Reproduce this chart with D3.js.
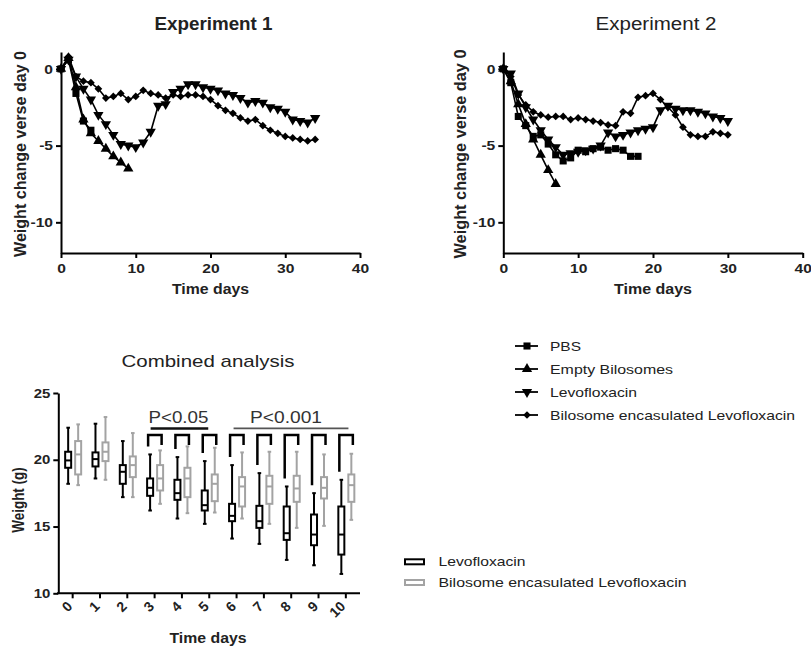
<!DOCTYPE html>
<html lang="en">
<head>
<meta charset="UTF-8">
<title>Weight change</title>
<script src="https://cdn.jsdelivr.net/npm/d3@7"></script>
<style>
  body { margin: 0; background: #fff; }
  svg text { font-family: "Liberation Sans", Arial, sans-serif; fill: #222; }
  .axis path, .axis line { stroke: #000; stroke-width: 2; }
  .axis text { font-weight: bold; font-size: 13px; fill: #222; font-family: "Liberation Sans", Arial, sans-serif; }
</style>
</head>
<body>
<svg id="fig" width="811" height="649"></svg>
<script>
// ---- data: line panels (value index = day) ----
var seriesNames = ['PBS', 'Empty Bilosomes', 'Levofloxacin', 'Bilosome encasulated Levofloxacin'];

var exp1PBS   = [0, 0.6, -1.6, -3.4, -4.0];
var exp1Empty = [0, 0.7, -1.2, -3.3, -4.2, -4.7, -5.2, -5.7, -6.1, -6.5];
var exp1Levo  = [0, 0.6, -0.5, -1.3, -2.0, -3.0, -3.6, -4.3, -4.9, -5.0, -5.1, -4.8, -4.1, -2.4, -2.3,
                 -1.5, -1.3, -1.0, -1.0, -1.2, -1.3, -1.4, -1.6, -1.7, -1.9, -2.2, -2.1, -2.2, -2.5,
                 -2.6, -2.8, -3.3, -3.4, -3.5, -3.2];
var exp1Bilo  = [0, 0.8, -0.5, -0.8, -0.9, -1.3, -1.9, -1.8, -1.6, -2.0, -1.8, -1.4, -1.6, -1.7, -1.9,
                 -1.7, -1.8, -1.7, -1.7, -1.8, -2.0, -2.4, -2.7, -2.9, -3.2, -3.4, -3.3, -3.7, -4.0,
                 -4.2, -4.4, -4.5, -4.6, -4.7, -4.6];

var exp2PBS   = [0, -0.9, -3.1, -3.7, -4.4, -4.3, -4.9, -5.6, -6.0, -5.8, -5.3, -5.4, -5.2, -5.1,
                 -5.3, -5.2, -5.3, -5.7, -5.7];
var exp2Empty = [0, -0.8, -2.3, -3.6, -4.6, -5.6, -6.6, -7.5];
var exp2Levo  = [0, -0.3, -1.6, -2.5, -3.3, -4.0, -4.6, -5.1, -5.6, -5.5, -5.4, -5.3, -5.2, -5.0,
                 -4.15, -4.4, -4.3, -4.15, -4.0, -3.9, -3.8, -2.7, -2.4, -2.6, -2.7, -2.7, -2.8,
                 -2.9, -3.1, -3.2, -3.4];
var exp2Bilo  = [0, -0.5, -1.7, -2.35, -2.8, -3.0, -3.15, -3.1, -3.1, -3.3, -3.2, -3.3, -3.4, -3.5,
                 -3.65, -3.7, -2.8, -2.9, -1.85, -1.75, -1.6, -2.0, -2.5, -3.0, -3.8, -4.3, -4.4,
                 -4.4, -4.1, -4.2, -4.3];

var dayTicks = [0, 10, 20, 30, 40];
var changeTicks = [0, -5, -10];

// ---- data: combined analysis box plot ----
var boxDays = ['0', '1', '2', '3', '4', '5', '6', '7', '8', '9', '10'];
var levoMin = [18.2, 18.6, 17.2, 16.2, 15.6, 15.2, 14.1, 13.7, 12.5, 12.1, 11.45];
var levoQ1  = [19.4, 19.5, 18.2, 17.3, 17.0, 16.2, 15.4, 14.9, 14.0, 13.6, 12.9];
var levoMed = [19.95, 20.05, 19.1, 17.9, 17.5, 16.6, 15.8, 15.4, 14.5, 14.4, 14.4];
var levoQ3  = [20.6, 20.55, 19.6, 18.6, 18.5, 17.7, 16.7, 16.55, 16.5, 15.9, 16.5];
var levoMax = [22.4, 22.7, 21.4, 20.4, 20.2, 19.9, 19.6, 19.0, 18.0, 17.5, 18.5];
var biloMin = [18.1, 18.5, 17.2, 16.7, 16.0, 16.05, 15.6, 15.2, 14.9, 15.05, 15.5];
var biloQ1  = [18.9, 19.9, 18.7, 17.7, 17.2, 16.9, 16.5, 16.7, 16.85, 17.1, 16.85];
var biloMed = [20.4, 20.6, 19.6, 18.6, 18.6, 18.2, 18.0, 18.0, 17.85, 17.9, 18.1];
var biloQ3  = [21.4, 21.3, 20.25, 19.6, 19.4, 18.9, 18.7, 18.8, 18.8, 18.7, 18.9];
var biloMax = [22.65, 23.2, 22.0, 20.7, 21.0, 20.9, 20.55, 20.6, 20.6, 20.4, 20.45];
var weightTicks = [10, 15, 20, 25];
var bracketDays = ['3', '4', '5', '6', '7', '8', '9', '10'];
var sigLabels = ['P<0.05', 'P<0.001'];
var sigFrom = ['3', '6'];
var sigTo = ['5', '10'];

var svg = d3.select('#fig');

function widen(sel, k) {
  sel.each(function () {
    var w = this.getComputedTextLength();
    d3.select(this).attr('textLength', w * k).attr('lengthAdjust', 'spacingAndGlyphs');
  });
}

var symbols = [
  { path: d3.symbol().type(d3.symbolSquare).size(50)(), rot: 0 },
  { path: d3.symbol().type(d3.symbolTriangle).size(46)(), rot: 0 },
  { path: d3.symbol().type(d3.symbolTriangle).size(46)(), rot: 180 },
  { path: d3.symbol().type(d3.symbolSquare).size(30)(), rot: 45 }
];

function linePanel(x0, x1, data, title, bold, titleLen, yLabX, yLabLen, xLabLen) {
  var x = d3.scaleLinear().domain([0, 40]).range([x0, x1]);
  var y = d3.scaleLinear().domain([-12, 1.1]).range([253, 52]);
  var g = svg.append('g');

  var ax = g.append('g').attr('class', 'axis').attr('transform', 'translate(0,253)')
    .call(d3.axisBottom(x).tickValues(dayTicks).tickSize(5).tickSizeOuter(0).tickPadding(6)
      .tickFormat(function (d) { return String(d); }));
  var ay = g.append('g').attr('class', 'axis').attr('transform', 'translate(' + x0 + ',0)')
    .call(d3.axisLeft(y).tickValues(changeTicks).tickSize(5).tickSizeOuter(0).tickPadding(3)
      .tickFormat(function (d) { return String(d); }));
  widen(ax.selectAll('text'), 1.2);
  widen(ay.selectAll('text'), 1.2);

  var line = d3.line().x(function (d, i) { return x(i); }).y(function (d) { return y(d); });

  data.forEach(function (vals, s) {
    g.append('path').attr('d', line(vals))
      .attr('fill', 'none').attr('stroke', '#000').attr('stroke-width', 1.6);
    g.selectAll(null).data(vals).enter().append('path')
      .attr('d', symbols[s].path)
      .attr('transform', function (d, i) {
        return 'translate(' + x(i) + ',' + y(d) + ') rotate(' + symbols[s].rot + ')';
      })
      .attr('fill', '#000');
  });

  g.append('text').attr('x', (x0 + x1) / 2 + 3).attr('y', 30)
    .attr('text-anchor', 'middle').style('font-size', '18px')
    .style('font-weight', bold ? 'bold' : 'normal')
    .attr('textLength', titleLen).attr('lengthAdjust', 'spacingAndGlyphs')
    .text(title);
  g.append('text')
    .attr('transform', 'translate(' + yLabX + ',154) scale(1.1,1) rotate(-90)')
    .attr('text-anchor', 'middle').style('font-size', '15px').style('font-weight', 'bold')
    .attr('textLength', yLabLen).attr('lengthAdjust', 'spacingAndGlyphs')
    .text('Weight change verse day 0');
  g.append('text').attr('x', (x0 + x1) / 2).attr('y', 294)
    .attr('text-anchor', 'middle').style('font-size', '14px').style('font-weight', 'bold')
    .attr('textLength', xLabLen).attr('lengthAdjust', 'spacingAndGlyphs')
    .text('Time days');
}

linePanel(61, 360, [exp1PBS, exp1Empty, exp1Levo, exp1Bilo], 'Experiment 1', true, 118, 25.5, 206, 77);
linePanel(503.3, 802.7, [exp2PBS, exp2Empty, exp2Levo, exp2Bilo], 'Experiment 2', false, 121, 466, 209, 78);

// legend for line panels
var legLens = [31, 123, 87, 245];
var leg = svg.append('g');
seriesNames.forEach(function (name, i) {
  var yy = 346 + i * 23;
  leg.append('line').attr('x1', 515).attr('x2', 538).attr('y1', yy).attr('y2', yy)
    .attr('stroke', '#000').attr('stroke-width', 1.8);
  leg.append('path').attr('d', symbols[i].path)
    .attr('transform', 'translate(527,' + yy + ') rotate(' + symbols[i].rot + ')').attr('fill', '#000');
  leg.append('text').attr('x', 550).attr('y', yy + 5).style('font-size', '13px')
    .attr('textLength', legLens[i]).attr('lengthAdjust', 'spacingAndGlyphs').text(name);
});

// ---- combined analysis ----
var bx = d3.scaleBand().domain(boxDays).range([59, 359.5]);
var by = d3.scaleLinear().domain([10, 25]).range([593.3, 393]);
var bg = svg.append('g');
function cx(d) { return bx(d) + bx.bandwidth() / 2; }

var bAxX = bg.append('g').attr('class', 'axis').attr('transform', 'translate(0,593.3)')
  .call(d3.axisBottom(bx).tickSize(5).tickSizeOuter(0));
bAxX.select('.domain').attr('d', 'M57,0H360');
bAxX.selectAll('text').attr('x', 0).attr('y', 0).attr('dy', 0)
  .attr('text-anchor', 'end').style('font-size', '14px')
  .attr('transform', 'translate(0.5,14) rotate(-45)');
var bAxY = bg.append('g').attr('class', 'axis').attr('transform', 'translate(58.3,0)')
  .call(d3.axisLeft(by).tickValues(weightTicks).tickSize(5).tickSizeOuter(0).tickPadding(3));
widen(bAxY.selectAll('text'), 1.15);

function drawBoxes(mins, q1s, meds, q3s, maxs, off, color) {
  boxDays.forEach(function (d, i) {
    var c = cx(d) + off;
    var gg = bg.append('g').attr('stroke', color).attr('stroke-width', 2).attr('fill', 'none');
    gg.append('line').attr('x1', c).attr('x2', c).attr('y1', by(maxs[i])).attr('y2', by(q3s[i]));
    gg.append('line').attr('x1', c).attr('x2', c).attr('y1', by(q1s[i])).attr('y2', by(mins[i]));
    gg.append('line').attr('x1', c - 1.8).attr('x2', c + 1.8).attr('y1', by(maxs[i])).attr('y2', by(maxs[i]));
    gg.append('line').attr('x1', c - 1.8).attr('x2', c + 1.8).attr('y1', by(mins[i])).attr('y2', by(mins[i]));
    gg.append('rect').attr('x', c - 3).attr('width', 6)
      .attr('y', by(q3s[i])).attr('height', by(q1s[i]) - by(q3s[i])).attr('fill', '#fff');
    gg.append('line').attr('x1', c - 3).attr('x2', c + 3).attr('y1', by(meds[i])).attr('y2', by(meds[i]));
  });
}
drawBoxes(levoMin, levoQ1, levoMed, levoQ3, levoMax, -4.5, '#000');
drawBoxes(biloMin, biloQ1, biloMed, biloQ3, biloMax, 5.5, '#a3a3a3');

// brackets
bracketDays.forEach(function (d) {
  var i = boxDays.indexOf(d);
  var l = cx(d) - 6.5, r = cx(d) + 7, top = by(21.85);
  bg.append('path')
    .attr('d', 'M' + l + ',' + (by(levoMax[i]) - 8) + 'V' + top + 'H' + r + 'V' + by(21.1))
    .attr('fill', 'none').attr('stroke', '#000').attr('stroke-width', 2.5);
});
sigLabels.forEach(function (lab, k) {
  var a = cx(sigFrom[k]) - (k === 0 ? 4 : 3), b = cx(sigTo[k]) + (k === 0 ? -1 : 2.6);
  bg.append('line').attr('x1', a).attr('x2', b).attr('y1', by(22.35)).attr('y2', by(22.35))
    .attr('stroke', k === 0 ? '#111' : '#555').attr('stroke-width', k === 0 ? 2.5 : 1.6);
  bg.append('text').attr('x', (a + b) / 2 - (k === 0 ? 1 : 5)).attr('y', 422.5)
    .attr('text-anchor', 'middle').style('font-size', '17px').style('fill', '#333')
    .attr('textLength', k === 0 ? 60 : 72).attr('lengthAdjust', 'spacingAndGlyphs')
    .text(lab);
});

bg.append('text').attr('x', 208).attr('y', 367).attr('text-anchor', 'middle')
  .style('font-size', '17px').style('fill', '#222')
  .attr('textLength', 173).attr('lengthAdjust', 'spacingAndGlyphs').text('Combined analysis');
bg.append('text').attr('transform', 'translate(24,500) scale(1.2,1) rotate(-90)')
  .attr('text-anchor', 'middle').style('font-size', '13.5px').style('font-weight', 'bold')
  .text('Weight (g)');
bg.append('text').attr('x', 208).attr('y', 643).attr('text-anchor', 'middle')
  .style('font-size', '14px').style('font-weight', 'bold')
  .attr('textLength', 77).attr('lengthAdjust', 'spacingAndGlyphs').text('Time days');

// box legend
var boxLegNames = ['Levofloxacin', 'Bilosome encasulated Levofloxacin'];
var boxLegColors = ['#000', '#a3a3a3'];
var boxLegLens = [87, 248];
boxLegNames.forEach(function (name, i) {
  var yy = 559.3 + i * 20.7;
  bg.append('rect').attr('x', 405).attr('y', yy).attr('width', 19).attr('height', 5)
    .attr('fill', '#fff').attr('stroke', boxLegColors[i]).attr('stroke-width', 2);
  bg.append('text').attr('x', 438.5).attr('y', yy + 7).style('font-size', '13px')
    .attr('textLength', boxLegLens[i]).attr('lengthAdjust', 'spacingAndGlyphs').text(name);
});
</script>
</body>
</html>
